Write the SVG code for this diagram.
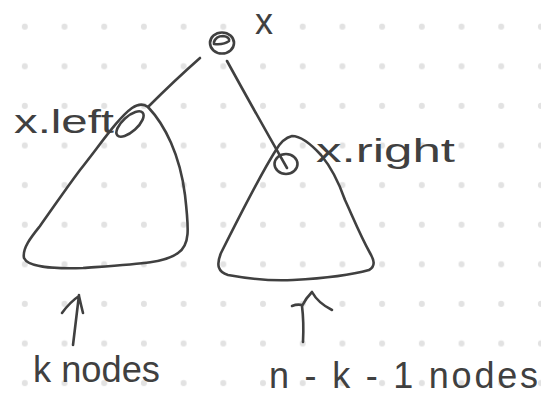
<svg xmlns="http://www.w3.org/2000/svg" width="541" height="395" viewBox="0 0 541 395">
<style>
.ink{fill:none;stroke:#404040;stroke-width:2.6;stroke-linecap:round;stroke-linejoin:round}
.lbl{font-family:"Liberation Sans","DejaVu Sans",sans-serif;fill:#404040}
</style>
<defs>
<pattern id="dots" patternUnits="userSpaceOnUse" x="5" y="7" width="39.7" height="39.6">
<circle cx="19.8" cy="19.7" r="3" fill="#e2e2e2"/>
</pattern>
</defs>
<rect width="541" height="395" fill="#ffffff"/>
<rect width="541" height="395" fill="url(#dots)"/>
<g id="connectors">
<path class="ink" d="M200,58 Q175,80 148,107"/>
<path class="ink" d="M227,61 Q255,112 287,168"/>
<path class="ink" d="M73,345 Q76,320 79,295 M62,313 Q70,302 79,296 Q81,305 83,313"/>
<path class="ink" d="M303,342 Q304,322 302,306 Q306,298 312,292 M292,306 Q297,304 302,305 M312,292 Q318,303 332,310"/>
</g>
<g id="root">
<ellipse class="ink" cx="222" cy="43" rx="12" ry="10.5"/>
<path class="ink" d="M214,42 Q216,36 223,36 Q230,37 229,41 Q224,45 214,44 Z"/>
<text class="lbl" x="255" y="34" font-size="36">x</text>
</g>
<g id="left-subtree">
<path class="ink" d="M148,107 C165,125 180,155 185,195 C189,230 190,245 178,253 C165,263 140,264 83,268 C50,269 28,267 24,258 C22,248 32,236 40,226 C55,205 65,190 80,170 C100,145 118,118 132,108 C138,104 144,104 148,107"/>
<ellipse class="ink" cx="130" cy="124" rx="17" ry="7.5" transform="rotate(-42 130 124)"/>
<text class="lbl" x="14" y="133" font-size="34" textLength="100" lengthAdjust="spacingAndGlyphs">x.left</text>
</g>
<g id="right-subtree">
<path class="ink" d="M276,150 C262,172 240,215 221,253 C216,265 218,272 228,275 C250,279 275,281 293,280 C330,278 355,274 369,270 C376,266 374,260 370,253 C360,235 352,215 345,200 C338,180 331,167 321,155 C310,143 300,136 292,136 C284,138 280,143 276,150"/>
<ellipse class="ink" cx="286" cy="164" rx="11.5" ry="10"/>
<text class="lbl" x="316" y="162" font-size="34" textLength="139" lengthAdjust="spacingAndGlyphs">x.right</text>
</g>
<g id="labels">
<text class="lbl" x="33" y="382" font-size="36" textLength="127" lengthAdjust="spacingAndGlyphs">k nodes</text>
<text class="lbl" x="269" y="388" font-size="36" textLength="269" lengthAdjust="spacing">n - k - 1 nodes</text>
</g>
</svg>
